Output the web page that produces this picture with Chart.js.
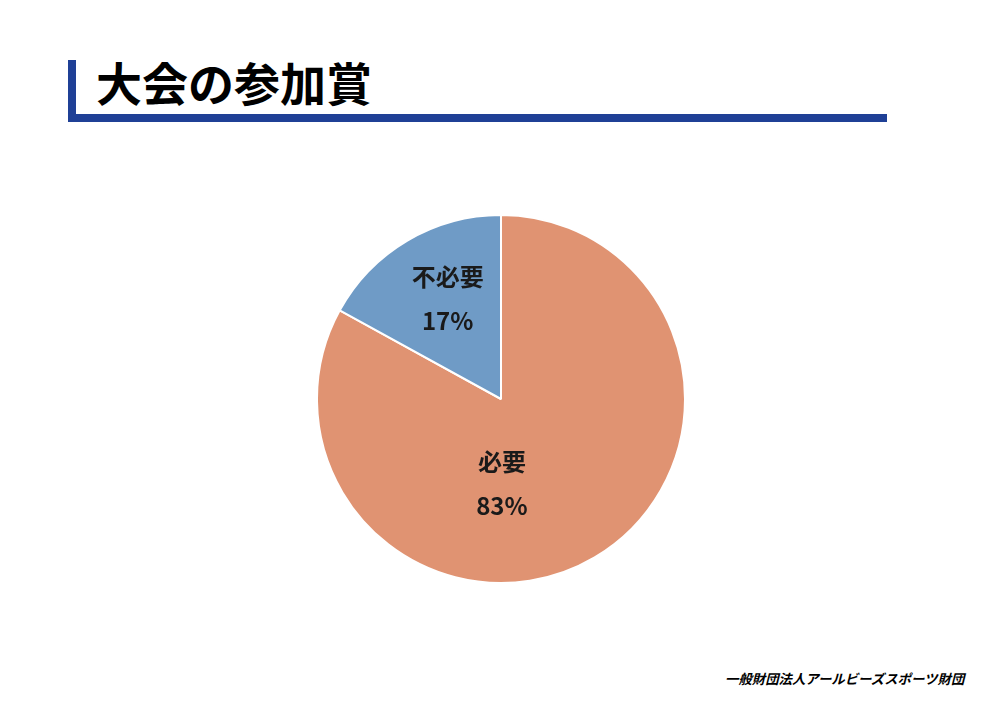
<!DOCTYPE html>
<html>
<head>
<meta charset="utf-8">
<script src="https://cdn.jsdelivr.net/npm/chart.js@4"></script>
<style>
  body { margin: 0; width: 1000px; height: 712px; background: #fff; position: relative; overflow: hidden;
         font-family: "Noto Sans CJK JP", "Noto Sans", sans-serif; }
  #bar-v { position: absolute; left: 68px; top: 60px; width: 8px; height: 62px; background: #1f4096; }
  #bar-h { position: absolute; left: 68px; top: 114px; width: 819px; height: 8px; background: #1f4096; }
  #title { position: absolute; left: 96px; top: 50px; font-size: 46px; font-weight: 700; color: #000; line-height: 62px; }
  #footer { position: absolute; left: 725px; top: 668px; font-size: 13.4px; font-weight: 700; font-style: italic; color: #000; }
  #wrap { position: absolute; left: 316px; top: 214px; width: 370px; height: 370px; }
</style>
</head>
<body>
<div id="bar-v"></div>
<div id="bar-h"></div>
<div id="title">大会の参加賞</div>
<div id="footer">一般財団法人アールビーズスポーツ財団</div>
<div id="wrap"><canvas id="chart-pie"></canvas></div>
<script>
var labels = ['必要', '不必要'];
var values = [83, 17];
var colors = ['#e09372', '#6f9bc6'];

// label anchor, relative to radius (dx, dy from the pie centre)
var labelSpots = [[0.005, 0.46], [-0.29, -0.545]];

var sliceLabels = {
  id: 'sliceLabels',
  afterDatasetsDraw: function(chart) {
    var ctx = chart.ctx;
    var meta = chart.getDatasetMeta(0);
    ctx.save();
    ctx.fillStyle = '#1a1a1a';
    ctx.font = 'bold 24px "Noto Sans CJK JP"';
    ctx.textAlign = 'center';
    ctx.textBaseline = 'middle';
    meta.data.forEach(function(arc, i) {
      var r = arc.outerRadius;
      var x = arc.x + labelSpots[i][0] * r;
      var y = arc.y + labelSpots[i][1] * r;
      ctx.fillText(labels[i], x, y - 22);
      ctx.fillText(values[i] + '%', x, y + 22);
    });
    ctx.restore();
  }
};

function initChart() {
  var ctx = document.getElementById('chart-pie').getContext('2d');
  new Chart(ctx, {
    type: 'pie',
    data: {
      labels: labels,
      datasets: [{
        data: values,
        backgroundColor: colors,
        borderColor: '#ffffff',
        borderWidth: 2
      }]
    },
    options: {
      animation: false,
      responsive: true,
      maintainAspectRatio: false,
      layout: { padding: 0 },
      plugins: {
        legend: { display: false },
        tooltip: { enabled: false }
      }
    },
    plugins: [sliceLabels]
  });
}

window.addEventListener('load', initChart);
</script>
</body>
</html>
